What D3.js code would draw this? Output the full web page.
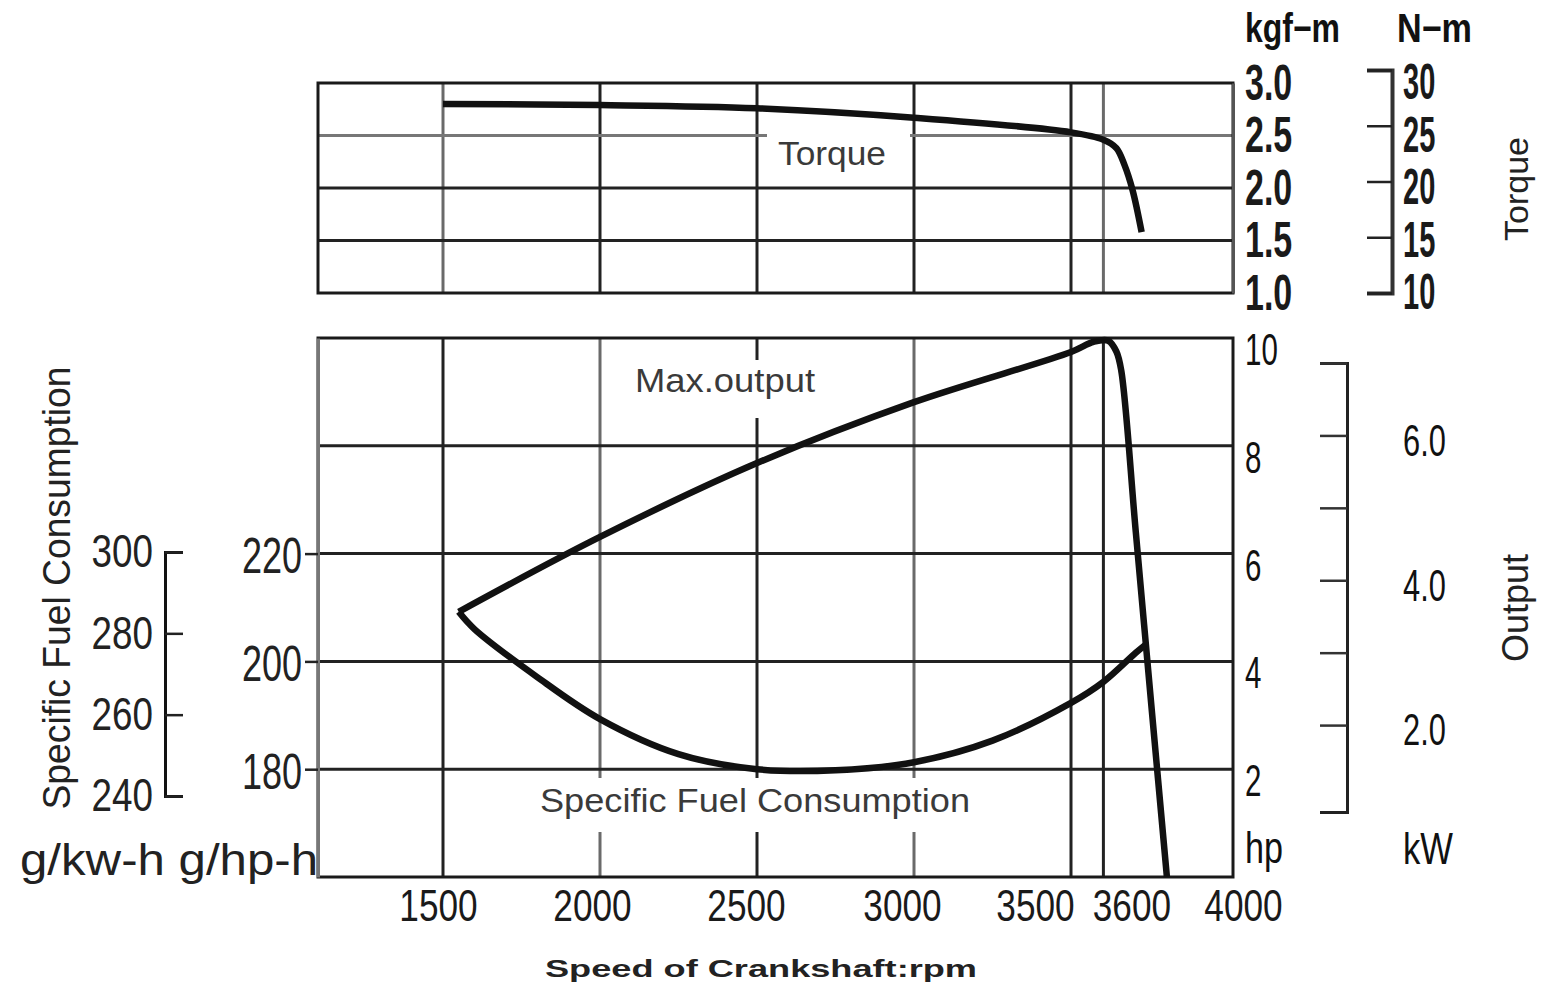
<!DOCTYPE html>
<html>
<head>
<meta charset="utf-8">
<script src="https://cdn.jsdelivr.net/npm/d3@7"></script>
<style>
  body { margin: 0; background: #fff; }
  text { font-family: "Liberation Sans", Arial, sans-serif; }
</style>
</head>
<body>
<svg id="chart" width="1546" height="990"></svg>
<script>
// ---- data ----
var rpmTicks = [1500, 2000, 2500, 3000, 3500, 3600, 4000];
var gridRpm = [1500, 2000, 2500, 3000, 3500, 3600];
var kgfTicks = [1.0, 1.5, 2.0, 2.5, 3.0];
var nmTicks = [10, 15, 20, 25, 30];
var hpTicks = [2, 4, 6, 8, 10];
var kwTicks = [2, 3, 4, 5, 6, 7];
var kwLabels = [2, 4, 6];
var gphTicks = [180, 200, 220];
var gkwhTicks = [240, 260, 280, 300];

var torqueRpm = [1500, 2000, 2500, 3000, 3500, 3600, 3640, 3665, 3690, 3718];
var torqueKgf = [2.80, 2.79, 2.76, 2.67, 2.53, 2.46, 2.38, 2.22, 1.98, 1.58];

var outputRpm = [1550, 2000, 2500, 3000, 3500, 3570, 3615, 3640, 3655, 3700, 3750, 3796];
var outputHp  = [4.92, 6.31, 7.68, 8.81, 9.74, 9.93, 9.95, 9.75, 9.4, 6.4, 3.05, 0];

var fuelRpm = [1550, 1600, 1800, 2000, 2250, 2500, 2750, 3000, 3250, 3500, 3600, 3700, 3728];
var fuelGph = [209.2, 206.0, 197.1, 189.3, 182.8, 180.0, 179.8, 181.3, 185.3, 192.3, 196.2, 201.6, 203.0];

// ---- layout ----
var svg = d3.select('#chart');
var left = 318, right = 1233;
var top1 = 83, bot1 = 293, top2 = 338, bot2 = 877;

var x = d3.scaleLinear().domain([1100, 1500, 3500, 4000]).range([left, 443, 1071, right]);
var yT = d3.scaleLinear().domain([1, 3]).range([bot1, top1]);
var yN = d3.scaleLinear().domain([10, 30]).range([bot1, 70]);
var yP = d3.scaleLinear().domain([0, 10]).range([bot2, top2]);
var yG = d3.scaleLinear().domain([160, 260]).range([bot2, top2]);
var yW = d3.scaleLinear().domain([0.8, 7]).range([812, 363]);
var yK = d3.scaleLinear().domain([240, 300]).range([796, 552]);

// narrow the glyphs like the condensed type of the original
function squeeze(sel, k) {
    sel.each(function() {
        var w = this.getComputedTextLength();
        if (w > 0) {
            this.setAttribute('textLength', w * k);
            this.setAttribute('lengthAdjust', 'spacingAndGlyphs');
        }
    });
}

//-----------------------------------------------------------------------------
// grid (some lines come out lighter in the print)
var grid = svg.append('g').attr('stroke', '#222').attr('stroke-width', 3);
[[top1, bot1, [1500, 3600]], [top2, bot2, [2000, 3000]]].forEach(function(p) {
    grid.append('g').selectAll('line')
        .data(gridRpm)
    .enter().append('line')
        .attr('x1', d => x(d)).attr('x2', d => x(d))
        .attr('y1', p[0]).attr('y2', p[1])
        .attr('stroke', d => p[2].includes(d) ? '#6a6a6a' : null);
});
grid.append('g').selectAll('line')
    .data([1.5, 2.0, 2.5])
.enter().append('line')
    .attr('x1', left).attr('x2', right)
    .attr('y1', d => yT(d)).attr('y2', d => yT(d))
    .attr('stroke', d => d == 2.5 ? '#777' : null);
grid.append('g').selectAll('line')
    .data([2, 4, 6, 8])
.enter().append('line')
    .attr('x1', left).attr('x2', right)
    .attr('y1', d => yP(d)).attr('y2', d => yP(d));

// frames
svg.append('rect').attr('x', left).attr('y', top1).attr('width', right - left).attr('height', bot1 - top1)
    .attr('fill', 'none').attr('stroke', '#1a1a1a').attr('stroke-width', 3);
svg.append('rect').attr('x', left).attr('y', top2).attr('width', right - left).attr('height', bot2 - top2)
    .attr('fill', 'none').attr('stroke', '#1a1a1a').attr('stroke-width', 3);

// curve labels (white box behind, hides grid)
function note(txt, bx, by, bw, bh, tx, ty, len) {
    svg.append('rect').attr('x', bx).attr('y', by).attr('width', bw).attr('height', bh).attr('fill', '#fff');
    var t = svg.append('text').attr('x', tx).attr('y', ty)
        .attr('font-size', 34).attr('fill', '#3a3a3a').text(txt);
    if (len) t.attr('textLength', len).attr('lengthAdjust', 'spacingAndGlyphs');
}
note('Torque', 767, 125, 143, 52, 778, 165, 108);
note('Max.output', 625, 360, 197, 58, 635, 392, 180);
note('Specific Fuel Consumption', 530, 778, 450, 54, 540, 812, 430);

// curves
var line = d3.line().curve(d3.curveCatmullRom.alpha(0.5));
function curve(xs, ys, yScale) {
    svg.append('path')
        .attr('d', line(xs.map((r, i) => [x(r), yScale(ys[i])])))
        .attr('fill', 'none').attr('stroke', '#111').attr('stroke-width', 6.5)
        .attr('stroke-linejoin', 'round').attr('stroke-linecap', 'butt');
}
curve(torqueRpm, torqueKgf, yT);
curve(outputRpm, outputHp, yP);
curve(fuelRpm, fuelGph, yG);

//-----------------------------------------------------------------------------
// x axis
var nudge = {1500: -5, 2000: -8, 2500: -11, 3000: -12, 3500: -36, 3600: 28, 4000: 10};
var xa = svg.append('g').attr('transform', `translate(0,${bot2})`)
    .call(d3.axisBottom(x).tickValues(rpmTicks).tickSize(0).tickPadding(13).tickFormat(d3.format('d')));
xa.select('.domain').remove();
xa.selectAll('text').attr('font-size', 44).attr('fill', '#1a1a1a').attr('dx', d => nudge[d]);
squeeze(xa.selectAll('text'), 0.8);

// g/hp-h axis
var ga = svg.append('g').attr('transform', `translate(${left},0)`)
    .call(d3.axisLeft(yG).tickValues(gphTicks).tickSizeInner(13).tickSizeOuter(0).tickPadding(3));
ga.select('.domain').attr('stroke', '#777').attr('stroke-width', 3);
ga.selectAll('.tick line').attr('stroke', '#222').attr('stroke-width', 2.5);
ga.selectAll('text').attr('font-size', 50).attr('fill', '#222').attr('dy', '0.38em');
squeeze(ga.selectAll('text'), 0.72);

// g/kW-h bracket
var ka = svg.append('g').attr('transform', 'translate(165,0)')
    .call(d3.axisLeft(yK).tickValues(gkwhTicks).tickSizeInner(-18).tickSizeOuter(-18).tickPadding(12));
ka.select('.domain').attr('stroke', '#111').attr('stroke-width', 3);
ka.selectAll('.tick line').attr('stroke', '#222').attr('stroke-width', 2.5);
ka.selectAll('text').attr('font-size', 46).attr('fill', '#222');
squeeze(ka.selectAll('text'), 0.8);

// kgf-m axis
var ta = svg.append('g').attr('transform', `translate(${right},0)`)
    .call(d3.axisRight(yT).tickValues(kgfTicks).tickSize(0).tickPadding(12).tickFormat(d3.format('.1f')));
ta.select('.domain').attr('stroke', '#555').attr('stroke-width', 3);
ta.selectAll('text').attr('font-size', 50).attr('font-weight', 'bold').attr('fill', '#1a1a1a');
squeeze(ta.selectAll('text'), 0.68);

// N-m bracket, labels sit on the kgf-m rows
var na = svg.append('g').attr('transform', 'translate(1392,0)')
    .call(d3.axisRight(yN).tickValues(nmTicks).tickSizeInner(-25).tickSizeOuter(-25).tickFormat(''));
na.select('.domain').attr('stroke', '#333').attr('stroke-width', 4);
na.selectAll('.tick line').attr('stroke', '#222').attr('stroke-width', 2.5);
var nl = svg.append('g').selectAll('text')
    .data(nmTicks)
.enter().append('text')
    .attr('x', 1403).attr('y', d => yT(d / 10)).attr('dy', '0.32em')
    .attr('font-size', 50).attr('font-weight', 'bold').attr('fill', '#1a1a1a')
    .text(d => d);
squeeze(nl, 0.58);

// hp axis
var pa = svg.append('g').attr('transform', `translate(${right},0)`)
    .call(d3.axisRight(yP).tickValues(hpTicks).tickSize(0).tickPadding(12));
pa.select('.domain').remove();
pa.selectAll('text').attr('font-size', 44).attr('fill', '#111').attr('dy', '0.6em');
squeeze(pa.selectAll('text'), 0.67);

// kW bracket
var wa = svg.append('g').attr('transform', 'translate(1347,0)')
    .call(d3.axisRight(yW).tickValues(kwTicks).tickSizeInner(-27).tickSizeOuter(-27).tickPadding(56)
        .tickFormat(d => kwLabels.includes(d) ? d.toFixed(1) : ''));
wa.select('.domain').attr('stroke', '#222').attr('stroke-width', 3);
wa.selectAll('.tick line').attr('stroke', '#333').attr('stroke-width', 2.5);
wa.selectAll('text').attr('font-size', 44).attr('fill', '#111').attr('dy', '0.45em');
squeeze(wa.selectAll('text'), 0.7);

//-----------------------------------------------------------------------------
// units and titles
function label(txt, tx, ty, opt) {
    var t = svg.append('text').attr('x', tx).attr('y', ty)
        .attr('font-size', opt.size).attr('fill', opt.fill || '#111')
        .attr('font-weight', opt.bold ? 'bold' : null)
        .attr('text-anchor', opt.anchor || 'start')
        .text(txt);
    if (opt.rot) t.attr('transform', `rotate(-90,${tx},${ty})`);
    if (opt.len) t.attr('textLength', opt.len).attr('lengthAdjust', 'spacingAndGlyphs');
    return t;
}
label('kgf\u2212m', 1245, 42, {size: 40, bold: true, len: 95});
label('N\u2212m', 1397, 42, {size: 40, bold: true, len: 75});
label('hp', 1245, 863, {size: 44, len: 38});
label('kW', 1403, 864, {size: 44, len: 50});
label('g/kw-h g/hp-h', 20, 875, {size: 44, fill: '#222', len: 298});
label('Speed of Crankshaft:rpm', 761, 977, {size: 24, bold: true, anchor: 'middle', fill: '#222', len: 432});
label('Torque', 1528, 189, {size: 34, anchor: 'middle', rot: true, fill: '#222'});
label('Output', 1528, 608, {size: 36, anchor: 'middle', rot: true, fill: '#222'});
label('Specific Fuel Consumption', 70, 588, {size: 38, anchor: 'middle', rot: true, fill: '#222', len: 443});
</script>
</body>
</html>
